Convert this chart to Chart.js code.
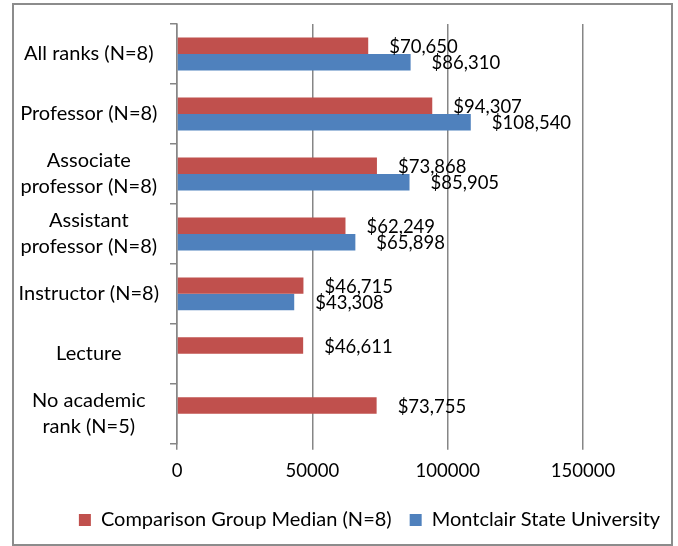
<!DOCTYPE html>
<html>
<head>
<meta charset="utf-8">
<script src="https://cdn.jsdelivr.net/npm/chart.js@4"></script>
<style>
    body { margin: 0; background: #fff; }
    #box {
        position: absolute;
        left: 12px;
        top: 3px;
        width: 657px;
        height: 539px;
        border: 2px solid #8c8c8c;
    }
</style>
</head>
<body>
<div id="box"><canvas id="salaryChart" width="657" height="539"></canvas></div>
<script>
// categories (multi-line labels as arrays)
const ranks = [
    'All ranks (N=8)',
    'Professor (N=8)',
    ['Associate', 'professor (N=8)'],
    ['Assistant', 'professor (N=8)'],
    'Instructor (N=8)',
    'Lecture',
    ['No academic', 'rank (N=5)']
];

const comparisonMedian = [70650, 94307, 73868, 62249, 46715, 46611, 73755];
const montclair = [86310, 108540, 85905, 65898, 43308, null, null];

const xTicks = [0, 50000, 100000, 150000];

const FONT = 'Lato';
const GRID = '#868686';

// draws "$xx,xxx" just past the end of every bar
const valueLabels = {
    id: 'valueLabels',
    afterDatasetsDraw(chart) {
        const ctx = chart.ctx;
        ctx.save();
        ctx.font = '18.5px ' + FONT;
        ctx.fillStyle = '#000';
        ctx.textAlign = 'left';
        ctx.textBaseline = 'middle';
        chart.data.datasets.forEach((ds, i) => {
            const meta = chart.getDatasetMeta(i);
            meta.data.forEach((bar, j) => {
                const v = ds.data[j];
                if (v === null || v === undefined) return;
                ctx.fillText('$' + v.toLocaleString('en-US'), bar.x + 21, bar.y + 1);
            });
        });
        ctx.restore();
    }
};

// the original legend sits a bit right of centre
const nudgeLegend = {
    id: 'nudgeLegend',
    afterLayout(chart) {
        chart.legend.left += 27;
        chart.legend.right += 27;
    }
};

const ctx = document.getElementById('salaryChart').getContext('2d');
new Chart(ctx, {
    type: 'bar',
    data: {
        labels: ranks,
        datasets: [
            {
                label: 'Comparison Group Median (N=8)',
                data: comparisonMedian,
                backgroundColor: '#C0504D',
                categoryPercentage: 0.55,
                barPercentage: 1
            },
            {
                label: 'Montclair State University',
                data: montclair,
                backgroundColor: '#4F81BD',
                categoryPercentage: 0.55,
                barPercentage: 1
            }
        ]
    },
    options: {
        indexAxis: 'y',
        responsive: false,
        animation: false,
        layout: {
            padding: { top: 19, right: 0, left: 0, bottom: 4 }
        },
        scales: {
            x: {
                min: 0,
                max: 150000,
                afterBuildTicks: (scale) => {
                    scale.ticks = xTicks.map(v => ({ value: v }));
                },
                afterFit: (scale) => { scale.paddingRight = 88; },
                grid: {
                    color: GRID,
                    lineWidth: 1.5,
                    tickLength: 6
                },
                border: { display: false },
                ticks: {
                    color: '#000',
                    padding: 10,
                    maxRotation: 0,
                    callback: (v) => String(v),
                    font: { family: FONT, size: 18.5 }
                }
            },
            y: {
                afterFit: (scale) => {
                    scale.width = 163;
                    scale.paddingTop = 0;
                    scale.paddingBottom = 0;
                },
                grid: {
                    drawOnChartArea: false,
                    color: GRID,
                    lineWidth: 1.5,
                    tickLength: 7
                },
                border: { display: true, color: GRID, width: 1.5 },
                ticks: {
                    color: '#000',
                    padding: 11,
                    autoSkip: false,
                    crossAlign: 'center',
                    font: { family: FONT, size: 20, lineHeight: 1.3 }
                }
            }
        },
        plugins: {
            legend: {
                position: 'bottom',
                labels: {
                    color: '#000',
                    boxWidth: 12,
                    boxHeight: 12,
                    padding: 18,
                    font: { family: FONT, size: 20 }
                }
            },
            tooltip: { enabled: false }
        }
    },
    plugins: [valueLabels, nudgeLegend]
});
</script>
</body>
</html>
